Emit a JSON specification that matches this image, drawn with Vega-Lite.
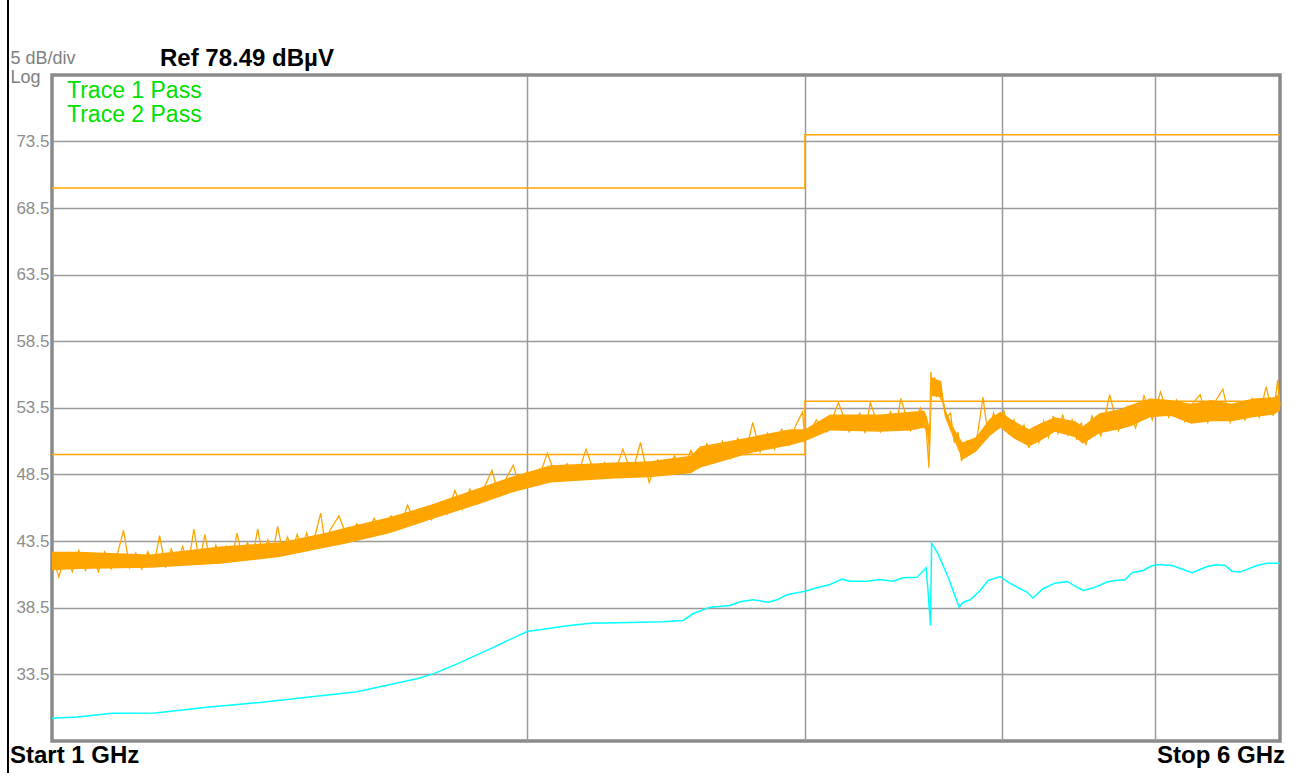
{
  "$schema": "https://vega.github.io/schema/vega-lite/v6.json",
  "width": 1228,
  "height": 666,
  "autosize": {"type": "none"},
  "padding": {"left": 52, "top": 75, "right": 15, "bottom": 32},
  "background": "white",
  "config": {
    "view": {"stroke": "#8a8a8a", "strokeWidth": 3.5},
    "font": "Liberation Sans",
    "axisX": {"labels": false, "ticks": false, "domain": false, "grid": true, "gridColor": "#9a9a9a", "gridWidth": 1.5},
    "axisY": {
      "ticks": false, "domain": false, "grid": true, "gridColor": "#9a9a9a", "gridWidth": 1.5,
      "labelColor": "#8c8c8c", "labelFontSize": 17, "labelPadding": 3, "labelFont": "Liberation Sans",
      "titleAngle": 0, "titleAlign": "left", "titleBaseline": "alphabetic",
      "titleX": -42, "titleY": -12, "titleColor": "#808080", "titleFontSize": 18, "titleFontWeight": "normal",
      "titleLineHeight": 19, "titleFont": "Liberation Sans"
    }
  },
  "datasets": {
    "limits": [
      {"freq": 1, "dB": 70, "line": "upper"},
      {"freq": 3, "dB": 74, "line": "upper"},
      {"freq": 6, "dB": 74, "line": "upper"},
      {"freq": 1, "dB": 50, "line": "lower"},
      {"freq": 3, "dB": 54, "line": "lower"},
      {"freq": 6, "dB": 54, "line": "lower"}
    ],
    "avg": [
      {"freq": 1.000, "dB": 30.2}, {"freq": 1.037, "dB": 30.3}, {"freq": 1.092, "dB": 30.58},
      {"freq": 1.162, "dB": 30.6}, {"freq": 1.254, "dB": 31.03}, {"freq": 1.354, "dB": 31.38},
      {"freq": 1.451, "dB": 31.78}, {"freq": 1.561, "dB": 32.18}, {"freq": 1.638, "dB": 32.73},
      {"freq": 1.703, "dB": 33.16}, {"freq": 1.744, "dB": 33.53}, {"freq": 1.806, "dB": 34.28},
      {"freq": 1.895, "dB": 35.41}, {"freq": 2.002, "dB": 36.73}, {"freq": 2.038, "dB": 36.84},
      {"freq": 2.108, "dB": 37.11}, {"freq": 2.193, "dB": 37.33}, {"freq": 2.280, "dB": 37.36},
      {"freq": 2.439, "dB": 37.44}, {"freq": 2.511, "dB": 37.54}, {"freq": 2.548, "dB": 38.04},
      {"freq": 2.612, "dB": 38.54}, {"freq": 2.689, "dB": 38.67}, {"freq": 2.729, "dB": 38.94},
      {"freq": 2.781, "dB": 39.09}, {"freq": 2.843, "dB": 38.91}, {"freq": 2.880, "dB": 39.09},
      {"freq": 2.922, "dB": 39.47}, {"freq": 3.000, "dB": 39.74}, {"freq": 3.053, "dB": 39.99},
      {"freq": 3.112, "dB": 40.24}, {"freq": 3.167, "dB": 40.64}, {"freq": 3.204, "dB": 40.49},
      {"freq": 3.284, "dB": 40.49}, {"freq": 3.347, "dB": 40.62}, {"freq": 3.411, "dB": 40.49},
      {"freq": 3.462, "dB": 40.74}, {"freq": 3.533, "dB": 40.79}, {"freq": 3.580, "dB": 41.49},
      {"freq": 3.590, "dB": 39.79}, {"freq": 3.603, "dB": 37.16}, {"freq": 3.609, "dB": 43.34},
      {"freq": 3.643, "dB": 42.54}, {"freq": 3.697, "dB": 40.79}, {"freq": 3.757, "dB": 38.54},
      {"freq": 3.779, "dB": 38.91}, {"freq": 3.818, "dB": 39.09}, {"freq": 3.874, "dB": 39.79},
      {"freq": 3.919, "dB": 40.54}, {"freq": 3.988, "dB": 40.84}, {"freq": 4.035, "dB": 40.42},
      {"freq": 4.088, "dB": 40.04}, {"freq": 4.148, "dB": 39.67}, {"freq": 4.184, "dB": 39.22},
      {"freq": 4.246, "dB": 39.92}, {"freq": 4.321, "dB": 40.34}, {"freq": 4.397, "dB": 40.47},
      {"freq": 4.462, "dB": 40.04}, {"freq": 4.501, "dB": 39.79}, {"freq": 4.567, "dB": 39.97},
      {"freq": 4.662, "dB": 40.42}, {"freq": 4.717, "dB": 40.54}, {"freq": 4.786, "dB": 40.59},
      {"freq": 4.835, "dB": 41.12}, {"freq": 4.914, "dB": 41.29}, {"freq": 4.964, "dB": 41.59},
      {"freq": 5.015, "dB": 41.74}, {"freq": 5.126, "dB": 41.67}, {"freq": 5.278, "dB": 41.12},
      {"freq": 5.395, "dB": 41.59}, {"freq": 5.474, "dB": 41.72}, {"freq": 5.538, "dB": 41.67},
      {"freq": 5.594, "dB": 41.24}, {"freq": 5.660, "dB": 41.17}, {"freq": 5.801, "dB": 41.67},
      {"freq": 5.887, "dB": 41.84}, {"freq": 6.000, "dB": 41.84}
    ],
    "band": [
      {"freq": 1.00, "lo": 41.3, "hi": 42.7}, {"freq": 1.04, "lo": 41.4, "hi": 42.7},
      {"freq": 1.154, "lo": 41.5, "hi": 42.5}, {"freq": 1.278, "lo": 41.8, "hi": 43.1},
      {"freq": 1.394, "lo": 42.3, "hi": 43.4}, {"freq": 1.489, "lo": 43.0, "hi": 44.1},
      {"freq": 1.534, "lo": 43.3, "hi": 44.5}, {"freq": 1.638, "lo": 44.1, "hi": 45.3},
      {"freq": 1.736, "lo": 45.1, "hi": 46.2}, {"freq": 1.867, "lo": 46.3, "hi": 47.5},
      {"freq": 1.951, "lo": 47.1, "hi": 48.3}, {"freq": 2.07, "lo": 47.9, "hi": 49.2},
      {"freq": 2.274, "lo": 48.2, "hi": 49.4}, {"freq": 2.393, "lo": 48.3, "hi": 49.5},
      {"freq": 2.54, "lo": 48.6, "hi": 49.9}, {"freq": 2.574, "lo": 49.0, "hi": 50.6},
      {"freq": 2.768, "lo": 50.1, "hi": 51.3}, {"freq": 2.936, "lo": 50.7, "hi": 51.9},
      {"freq": 3.00, "lo": 51.0, "hi": 51.9}, {"freq": 3.112, "lo": 51.8, "hi": 53.0},
      {"freq": 3.347, "lo": 51.7, "hi": 53.0}, {"freq": 3.50, "lo": 51.8, "hi": 53.2},
      {"freq": 3.57, "lo": 52.0, "hi": 53.3}, {"freq": 3.585, "lo": 51.6, "hi": 52.8},
      {"freq": 3.60, "lo": 49.6, "hi": 51.9}, {"freq": 3.61, "lo": 54.4, "hi": 55.8},
      {"freq": 3.66, "lo": 54.3, "hi": 55.5}, {"freq": 3.68, "lo": 52.8, "hi": 53.4},
      {"freq": 3.735, "lo": 50.9, "hi": 51.8}, {"freq": 3.775, "lo": 49.6, "hi": 50.9},
      {"freq": 3.85, "lo": 50.2, "hi": 51.3}, {"freq": 3.93, "lo": 51.4, "hi": 52.7},
      {"freq": 3.99, "lo": 52.0, "hi": 53.2}, {"freq": 4.07, "lo": 51.2, "hi": 52.5},
      {"freq": 4.16, "lo": 50.6, "hi": 51.9}, {"freq": 4.225, "lo": 51.0, "hi": 52.3},
      {"freq": 4.32, "lo": 51.7, "hi": 52.8}, {"freq": 4.45, "lo": 51.3, "hi": 52.5},
      {"freq": 4.50, "lo": 50.8, "hi": 52.1}, {"freq": 4.61, "lo": 51.6, "hi": 53.1},
      {"freq": 4.75, "lo": 51.9, "hi": 53.4}, {"freq": 4.82, "lo": 52.1, "hi": 53.7},
      {"freq": 4.965, "lo": 52.8, "hi": 54.2}, {"freq": 5.115, "lo": 52.9, "hi": 54.1},
      {"freq": 5.27, "lo": 52.3, "hi": 53.8}, {"freq": 5.43, "lo": 52.5, "hi": 54.1},
      {"freq": 5.59, "lo": 52.5, "hi": 53.8}, {"freq": 5.77, "lo": 52.8, "hi": 54.2},
      {"freq": 5.95, "lo": 53.0, "hi": 54.3}, {"freq": 6.00, "lo": 53.3, "hi": 54.6}
    ],
    "peak": [
      {"freq": 1.00, "dB": 42.5}, {"freq": 1.01, "dB": 40.8}, {"freq": 1.02, "dB": 42.6}, {"freq": 1.03, "dB": 41.2},
      {"freq": 1.04, "dB": 42.8}, {"freq": 1.05, "dB": 41.3}, {"freq": 1.06, "dB": 42.5}, {"freq": 1.07, "dB": 41.2},
      {"freq": 1.08, "dB": 42.7}, {"freq": 1.09, "dB": 41.4}, {"freq": 1.10, "dB": 42.5}, {"freq": 1.11, "dB": 44.3},
      {"freq": 1.12, "dB": 41.5}, {"freq": 1.13, "dB": 42.6}, {"freq": 1.14, "dB": 41.4}, {"freq": 1.15, "dB": 42.7},
      {"freq": 1.16, "dB": 41.6}, {"freq": 1.17, "dB": 43.9}, {"freq": 1.18, "dB": 41.5}, {"freq": 1.19, "dB": 42.9},
      {"freq": 1.20, "dB": 41.8}, {"freq": 1.21, "dB": 43.1}, {"freq": 1.22, "dB": 41.7}, {"freq": 1.23, "dB": 44.4},
      {"freq": 1.24, "dB": 41.9}, {"freq": 1.25, "dB": 44.0}, {"freq": 1.26, "dB": 41.9}, {"freq": 1.27, "dB": 43.2},
      {"freq": 1.28, "dB": 42.0}, {"freq": 1.29, "dB": 43.1}, {"freq": 1.30, "dB": 42.1}, {"freq": 1.31, "dB": 44.1},
      {"freq": 1.32, "dB": 42.2}, {"freq": 1.33, "dB": 43.4}, {"freq": 1.34, "dB": 42.3}, {"freq": 1.35, "dB": 44.4},
      {"freq": 1.36, "dB": 42.4}, {"freq": 1.37, "dB": 43.6}, {"freq": 1.38, "dB": 42.6}, {"freq": 1.39, "dB": 44.6},
      {"freq": 1.40, "dB": 42.7}, {"freq": 1.41, "dB": 43.8}, {"freq": 1.42, "dB": 42.8}, {"freq": 1.43, "dB": 44.0},
      {"freq": 1.44, "dB": 42.9}, {"freq": 1.45, "dB": 44.1}, {"freq": 1.46, "dB": 43.0}, {"freq": 1.47, "dB": 44.2},
      {"freq": 1.48, "dB": 45.6}, {"freq": 1.49, "dB": 43.2}, {"freq": 1.50, "dB": 44.3},
      {"freq": 1.52, "dB": 45.4}, {"freq": 1.54, "dB": 43.6}, {"freq": 1.56, "dB": 44.8}, {"freq": 1.58, "dB": 43.9},
      {"freq": 1.60, "dB": 45.2}, {"freq": 1.62, "dB": 44.2}, {"freq": 1.64, "dB": 45.4}, {"freq": 1.66, "dB": 44.4},
      {"freq": 1.68, "dB": 46.2}, {"freq": 1.70, "dB": 44.8}, {"freq": 1.72, "dB": 46.0}, {"freq": 1.74, "dB": 45.1},
      {"freq": 1.76, "dB": 46.3}, {"freq": 1.78, "dB": 45.5}, {"freq": 1.80, "dB": 47.3}, {"freq": 1.82, "dB": 45.9},
      {"freq": 1.84, "dB": 47.4}, {"freq": 1.86, "dB": 46.3}, {"freq": 1.88, "dB": 47.6}, {"freq": 1.90, "dB": 48.8},
      {"freq": 1.92, "dB": 46.9}, {"freq": 1.94, "dB": 48.2}, {"freq": 1.96, "dB": 49.2}, {"freq": 1.98, "dB": 47.5},
      {"freq": 2.00, "dB": 48.7},
      {"freq": 2.03, "dB": 47.9}, {"freq": 2.06, "dB": 50.1}, {"freq": 2.09, "dB": 48.1}, {"freq": 2.12, "dB": 49.3},
      {"freq": 2.15, "dB": 48.2}, {"freq": 2.18, "dB": 50.4}, {"freq": 2.21, "dB": 48.3}, {"freq": 2.24, "dB": 49.4},
      {"freq": 2.27, "dB": 48.4}, {"freq": 2.30, "dB": 50.4}, {"freq": 2.33, "dB": 48.5}, {"freq": 2.36, "dB": 50.9},
      {"freq": 2.39, "dB": 47.9}, {"freq": 2.42, "dB": 49.6}, {"freq": 2.45, "dB": 48.5}, {"freq": 2.48, "dB": 49.9},
      {"freq": 2.51, "dB": 48.7}, {"freq": 2.54, "dB": 50.3}, {"freq": 2.57, "dB": 49.0}, {"freq": 2.60, "dB": 50.8},
      {"freq": 2.63, "dB": 49.4}, {"freq": 2.66, "dB": 51.0}, {"freq": 2.69, "dB": 49.7}, {"freq": 2.72, "dB": 51.2},
      {"freq": 2.75, "dB": 50.0}, {"freq": 2.78, "dB": 52.4}, {"freq": 2.81, "dB": 50.2}, {"freq": 2.84, "dB": 51.6},
      {"freq": 2.87, "dB": 50.4}, {"freq": 2.90, "dB": 51.9}, {"freq": 2.93, "dB": 50.7}, {"freq": 2.96, "dB": 52.2},
      {"freq": 2.99, "dB": 53.2}, {"freq": 3.00, "dB": 51.0},
      {"freq": 3.05, "dB": 52.6}, {"freq": 3.10, "dB": 51.7}, {"freq": 3.15, "dB": 53.9}, {"freq": 3.20, "dB": 51.7},
      {"freq": 3.25, "dB": 53.1}, {"freq": 3.275, "dB": 51.6}, {"freq": 3.30, "dB": 53.9}, {"freq": 3.35, "dB": 51.7},
      {"freq": 3.40, "dB": 53.2}, {"freq": 3.425, "dB": 51.8}, {"freq": 3.45, "dB": 54.2}, {"freq": 3.50, "dB": 51.8},
      {"freq": 3.55, "dB": 53.5}, {"freq": 3.58, "dB": 52.0}, {"freq": 3.595, "dB": 49.0}, {"freq": 3.605, "dB": 56.2},
      {"freq": 3.615, "dB": 54.4}, {"freq": 3.625, "dB": 55.8}, {"freq": 3.635, "dB": 54.3}, {"freq": 3.645, "dB": 55.4},
      {"freq": 3.655, "dB": 54.2}, {"freq": 3.67, "dB": 54.0}, {"freq": 3.69, "dB": 52.8}, {"freq": 3.71, "dB": 53.1},
      {"freq": 3.73, "dB": 50.9}, {"freq": 3.75, "dB": 51.7}, {"freq": 3.77, "dB": 49.5}, {"freq": 3.80, "dB": 51.0},
      {"freq": 3.83, "dB": 50.2}, {"freq": 3.86, "dB": 51.6}, {"freq": 3.89, "dB": 54.3}, {"freq": 3.92, "dB": 51.3},
      {"freq": 3.95, "dB": 53.1}, {"freq": 3.98, "dB": 52.0}, {"freq": 4.01, "dB": 53.3}, {"freq": 4.04, "dB": 51.6},
      {"freq": 4.07, "dB": 52.6}, {"freq": 4.10, "dB": 51.1}, {"freq": 4.13, "dB": 52.2}, {"freq": 4.16, "dB": 50.5},
      {"freq": 4.19, "dB": 52.0}, {"freq": 4.22, "dB": 50.9}, {"freq": 4.25, "dB": 52.5}, {"freq": 4.28, "dB": 51.3},
      {"freq": 4.31, "dB": 52.9}, {"freq": 4.34, "dB": 51.6}, {"freq": 4.37, "dB": 53.0}, {"freq": 4.40, "dB": 51.5},
      {"freq": 4.43, "dB": 52.6}, {"freq": 4.46, "dB": 51.1}, {"freq": 4.49, "dB": 52.4}, {"freq": 4.52, "dB": 50.7},
      {"freq": 4.56, "dB": 52.9}, {"freq": 4.62, "dB": 51.4}, {"freq": 4.68, "dB": 54.5}, {"freq": 4.74, "dB": 51.8},
      {"freq": 4.80, "dB": 53.6}, {"freq": 4.86, "dB": 52.0}, {"freq": 4.92, "dB": 54.4}, {"freq": 4.98, "dB": 52.6},
      {"freq": 5.04, "dB": 54.7}, {"freq": 5.10, "dB": 52.8}, {"freq": 5.16, "dB": 54.1}, {"freq": 5.22, "dB": 52.5},
      {"freq": 5.28, "dB": 53.8}, {"freq": 5.34, "dB": 54.5}, {"freq": 5.40, "dB": 52.4}, {"freq": 5.46, "dB": 54.0},
      {"freq": 5.52, "dB": 54.9}, {"freq": 5.58, "dB": 52.4}, {"freq": 5.64, "dB": 53.9}, {"freq": 5.70, "dB": 52.6},
      {"freq": 5.76, "dB": 54.2}, {"freq": 5.82, "dB": 52.8}, {"freq": 5.88, "dB": 55.1}, {"freq": 5.94, "dB": 52.9},
      {"freq": 5.98, "dB": 55.6}, {"freq": 6.00, "dB": 53.6}
    ]
  },
  "layer": [
    {
      "data": {"name": "limits"},
      "mark": {"type": "line", "interpolate": "step-after", "color": "#FFA500", "strokeWidth": 1.5},
      "encoding": {
        "x": {"field": "freq", "type": "quantitative", "scale": {"type": "log", "domain": [1, 6], "nice": false, "zero": false}, "axis": {"values": [2, 3, 4, 5], "title": null}},
        "y": {"field": "dB", "type": "quantitative", "scale": {"domain": [28.49, 78.49], "nice": false, "zero": false}, "axis": {"values": [33.5, 38.5, 43.5, 48.5, 53.5, 58.5, 63.5, 68.5, 73.5], "format": ".1f", "title": ["5 dB/div", "Log"]}},
        "detail": {"field": "line"}
      }
    },
    {
      "data": {"name": "avg"},
      "mark": {"type": "line", "color": "#00FFFF", "strokeWidth": 1.5},
      "encoding": {
        "x": {"field": "freq", "type": "quantitative", "axis": {"values": [2, 3, 4, 5], "title": null}},
        "y": {"field": "dB", "type": "quantitative", "axis": {"values": [33.5, 38.5, 43.5, 48.5, 53.5, 58.5, 63.5, 68.5, 73.5], "format": ".1f", "title": ["5 dB/div", "Log"]}}
      }
    },
    {
      "data": {"name": "band"},
      "mark": {"type": "area", "color": "#FFA500", "opacity": 1},
      "encoding": {
        "x": {"field": "freq", "type": "quantitative", "axis": {"values": [2, 3, 4, 5], "title": null}},
        "y": {"field": "lo", "type": "quantitative", "axis": {"values": [33.5, 38.5, 43.5, 48.5, 53.5, 58.5, 63.5, 68.5, 73.5], "format": ".1f", "title": ["5 dB/div", "Log"]}},
        "y2": {"field": "hi"}
      }
    },
    {
      "data": {"name": "peak"},
      "mark": {"type": "line", "color": "#FFA500", "strokeWidth": 1.3},
      "encoding": {
        "x": {"field": "freq", "type": "quantitative", "axis": {"values": [2, 3, 4, 5], "title": null}},
        "y": {"field": "dB", "type": "quantitative", "axis": {"values": [33.5, 38.5, 43.5, 48.5, 53.5, 58.5, 63.5, 68.5, 73.5], "format": ".1f", "title": ["5 dB/div", "Log"]}}
      }
    },
    {
      "data": {"values": [{"t": "Ref 78.49 dBµV"}]},
      "mark": {"type": "text", "align": "left", "baseline": "alphabetic", "dx": 108, "dy": -9, "fontSize": 24, "fontWeight": "bold", "color": "#000000", "font": "Liberation Sans"},
      "encoding": {"x": {"datum": 1}, "y": {"datum": 78.49}, "text": {"field": "t"}}
    },
    {
      "data": {"values": [{"t": "Trace 1 Pass"}]},
      "mark": {"type": "text", "align": "left", "baseline": "alphabetic", "dx": 15, "dy": 23, "fontSize": 23, "color": "#00E000", "font": "Liberation Sans"},
      "encoding": {"x": {"datum": 1}, "y": {"datum": 78.49}, "text": {"field": "t"}}
    },
    {
      "data": {"values": [{"t": "Trace 2 Pass"}]},
      "mark": {"type": "text", "align": "left", "baseline": "alphabetic", "dx": 15, "dy": 47, "fontSize": 23, "color": "#00E000", "font": "Liberation Sans"},
      "encoding": {"x": {"datum": 1}, "y": {"datum": 78.49}, "text": {"field": "t"}}
    },
    {
      "data": {"values": [{"t": "Start 1 GHz"}]},
      "mark": {"type": "text", "align": "left", "baseline": "alphabetic", "dx": -42, "dy": 22, "fontSize": 24, "fontWeight": "bold", "color": "#000000", "font": "Liberation Sans"},
      "encoding": {"x": {"datum": 1}, "y": {"datum": 28.49}, "text": {"field": "t"}}
    },
    {
      "data": {"values": [{"t": "Stop 6 GHz"}]},
      "mark": {"type": "text", "align": "right", "baseline": "alphabetic", "dx": 5, "dy": 22, "fontSize": 24, "fontWeight": "bold", "color": "#000000", "font": "Liberation Sans"},
      "encoding": {"x": {"datum": 6}, "y": {"datum": 28.49}, "text": {"field": "t"}}
    },
    {
      "data": {"values": [{}]},
      "mark": {"type": "rule", "color": "#000000", "strokeWidth": 2, "xOffset": -44, "yOffset": -75, "y2Offset": 32},
      "encoding": {"x": {"datum": 1}, "y": {"datum": 78.49}, "y2": {"datum": 28.49}}
    }
  ]
}
